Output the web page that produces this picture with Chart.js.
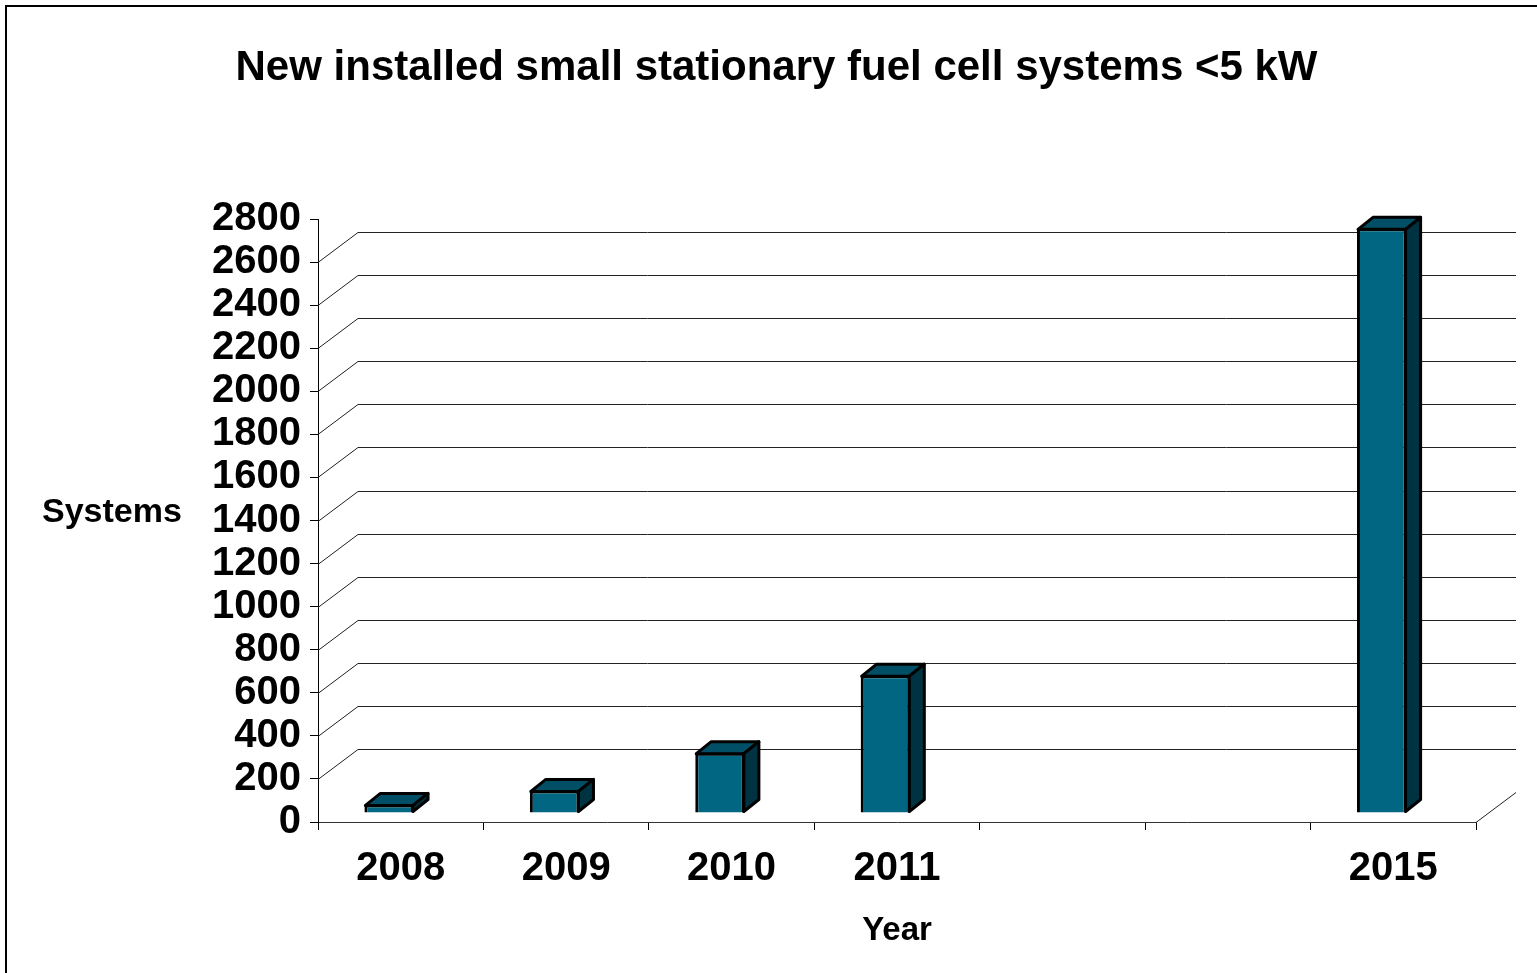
<!DOCTYPE html>
<html>
<head>
<meta charset="utf-8">
<script src="https://cdn.jsdelivr.net/npm/chart.js@4.4.1/dist/chart.umd.min.js"></script>
<style>
html,body{margin:0;padding:0;background:#fff;overflow:hidden}
canvas{display:block}
</style>
</head>
<body>
<canvas id="c" width="1537" height="973"></canvas>
<script>
// ---- data ----
const categories = ['2008', '2009', '2010', '2011', '', '', '2015'];
const systems = [40, 105, 280, 640, null, null, 2715];
const yMin = 0;
const yMax = 2800;
const yStep = 200;
const chartTitle = 'New installed small stationary fuel cell systems <5 kW';
const yAxisLabel = 'Systems';
const xAxisLabel = 'Year';

// ---- style ----
const FONT = "'Liberation Sans', Arial, sans-serif";
const FRONT = '#006682';
const TOP = '#004f66';
const SIDE = '#003341';
const WALL_DX = 40, WALL_DY = 30;      // 3D depth of back wall
const BAR_SHIFT_X = -11.5, BAR_SHIFT_Y = -9; // bar front plane offset
const BAR_DX = 15, BAR_DY = 12;        // bar depth

const threeD = {
  id: 'threeD',
  beforeDraw(chart) {
    const ctx = chart.ctx;
    ctx.save();
    ctx.fillStyle = '#fff';
    ctx.fillRect(0, 0, chart.width, chart.height);
    ctx.strokeStyle = '#000';
    ctx.lineWidth = 2;
    ctx.beginPath();
    ctx.moveTo(6, chart.height);
    ctx.lineTo(6, 6);
    ctx.lineTo(chart.width, 6);
    ctx.stroke();
    // horizontal y-axis label
    ctx.fillStyle = '#000';
    ctx.font = 'bold 34px ' + FONT;
    ctx.textAlign = 'left';
    ctx.textBaseline = 'middle';
    const a = chart.chartArea;
    ctx.fillText(yAxisLabel, 42, (a.top + a.bottom) / 2 - 8);
    ctx.restore();
  },
  beforeDatasetsDraw(chart) {
    const {ctx, chartArea: a, scales: {y}} = chart;
    ctx.save();
    ctx.strokeStyle = '#222';
    ctx.lineWidth = 1;
    ctx.beginPath();
    y.ticks.forEach(t => {
      if (t.value === yMin || t.value === yMax) return;
      const py = Math.round(y.getPixelForValue(t.value)) + 0.5;
      ctx.moveTo(a.left, py);
      ctx.lineTo(a.left + WALL_DX, py - WALL_DY);
      ctx.lineTo(a.right + WALL_DX, py - WALL_DY);
    });
    const pb = Math.round(y.getPixelForValue(yMin)) + 0.5;
    ctx.moveTo(a.right, pb);
    ctx.lineTo(a.right + WALL_DX, pb - WALL_DY);
    ctx.stroke();
    ctx.restore();
    ctx.save();
    ctx.translate(BAR_SHIFT_X, BAR_SHIFT_Y);
  },
  afterDatasetsDraw(chart) {
    const ctx = chart.ctx;
    const meta = chart.getDatasetMeta(0);
    ctx.lineWidth = 3;
    ctx.lineJoin = 'round';
    ctx.strokeStyle = '#000';
    meta.data.forEach((bar, i) => {
      if (systems[i] == null) return;
      const {x, y, base, width} = bar.getProps(['x', 'y', 'base', 'width'], true);
      const xl = x - width / 2 + 1, xr = x + width / 2 - 1, yt = y + 1, yb = base - 1;
      // top face
      ctx.beginPath();
      ctx.moveTo(xl, yt);
      ctx.lineTo(xl + BAR_DX, yt - BAR_DY);
      ctx.lineTo(xr + BAR_DX, yt - BAR_DY);
      ctx.lineTo(xr, yt);
      ctx.closePath();
      ctx.fillStyle = TOP;
      ctx.fill();
      ctx.stroke();
      // side face
      ctx.beginPath();
      ctx.moveTo(xr, yt);
      ctx.lineTo(xr + BAR_DX, yt - BAR_DY);
      ctx.lineTo(xr + BAR_DX, yb - BAR_DY);
      ctx.lineTo(xr, yb);
      ctx.closePath();
      ctx.fillStyle = SIDE;
      ctx.fill();
      ctx.stroke();
    });
    ctx.restore();
  }
};

new Chart(document.getElementById('c'), {
  type: 'bar',
  data: {
    labels: categories,
    datasets: [{
      data: systems,
      backgroundColor: FRONT,
      borderColor: '#000',
      borderWidth: 3,
      barPercentage: 0.3,
      categoryPercentage: 1
    }]
  },
  options: {
    responsive: false,
    animation: false,
    events: [],
    layout: { padding: { left: 77, right: 61, top: 0, bottom: 0 } },
    plugins: {
      legend: { display: false },
      tooltip: { enabled: false },
      title: {
        display: true,
        text: chartTitle,
        color: '#000',
        font: { family: FONT, size: 42, weight: 'bold' },
        padding: { top: 43, bottom: 125.6 }
      }
    },
    scales: {
      x: {
        offset: true,
        grid: { drawOnChartArea: false, drawTicks: true, tickLength: 8, color: '#000', offset: true },
        border: { color: '#333', width: 1 },
        ticks: { color: '#000', font: { family: FONT, size: 40, weight: 'bold' }, padding: 15, maxRotation: 0, autoSkip: false },
        title: { display: true, text: xAxisLabel, color: '#000', font: { family: FONT, size: 33, weight: 'bold' }, padding: { top: 19, bottom: 22 } },
        afterFit(s) { s.height = 151; }
      },
      y: {
        min: yMin,
        max: yMax,
        grid: { drawOnChartArea: false, drawTicks: true, tickLength: 8, color: '#000' },
        border: { color: '#000', width: 1 },
        ticks: {
          stepSize: yStep, autoSkip: false, color: '#000',
          font: { family: FONT, size: 40, weight: 'bold' }, padding: 9,
          callback: v => String(v)
        },
        afterFit(s) { s.width = 241; }
      }
    }
  },
  plugins: [threeD]
});
</script>
</body>
</html>
